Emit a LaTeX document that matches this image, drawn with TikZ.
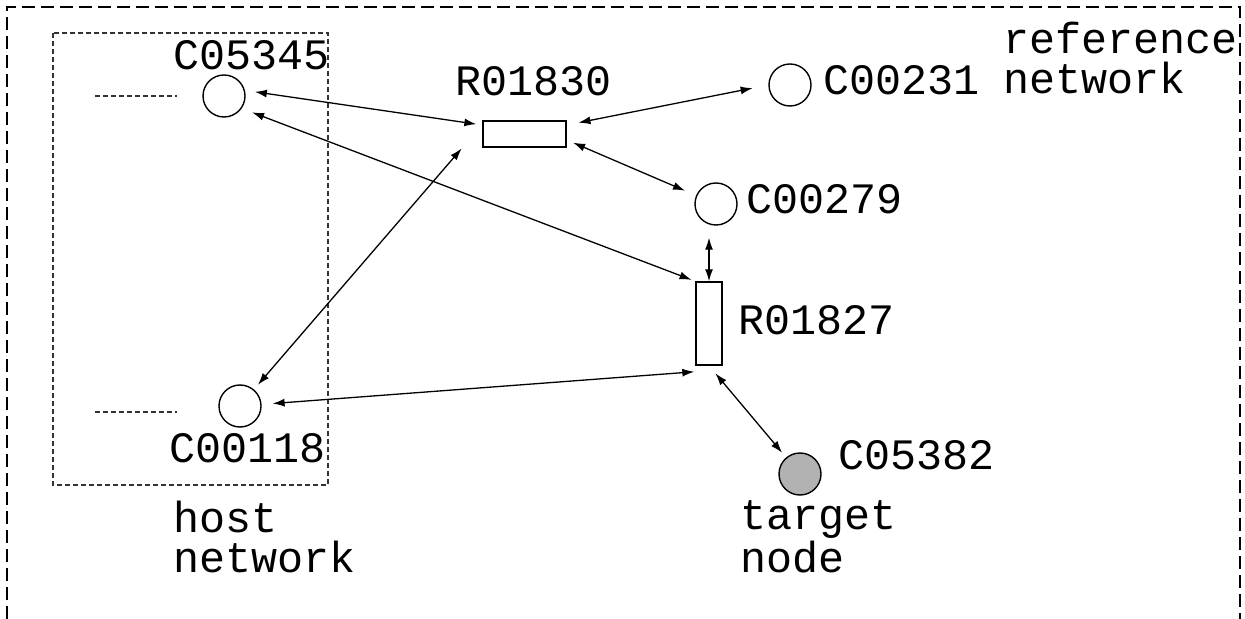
\documentclass[tikz,border=0pt]{standalone}
\usepackage{fontspec}
\setmonofont{Liberation Mono}
\usetikzlibrary{arrows.meta,calc}

\tikzset{
  cpd/.style={circle,draw,line width=0.7pt,minimum size=21pt,inner sep=0pt},
  rxn/.style={rectangle,draw,line width=0.7pt,inner sep=0pt},
  lbl/.style={anchor=base west,inner sep=0pt,align=left,
    font=\fontsize{21.7}{20}\selectfont\ttfamily},
  link/.style={{Latex[length=6pt,width=4pt]}-{Latex[length=6pt,width=4pt]},line width=0.65pt},
  stub/.style={draw=black!80,line width=0.6pt,dash pattern=on 2.5pt off 1.5pt},
}

\begin{document}
\begin{tikzpicture}[x=0.5pt,y=-0.5pt]
\useasboundingbox (0,0) rectangle (1245,619);

\draw[line width=0.9pt,dash pattern=on 6.5pt off 3pt] (7,619) -- (7,7) -- (1240,7) -- (1240,619);
\draw[stub] (53,33) rectangle (328,485);
\draw[stub] (95,96) -- (177,96);
\draw[stub] (95,412) -- (177,412);

\node[cpd] (C05345) at (224,96) {};
\node[cpd] (C00118) at (240,406) {};
\node[cpd] (C00231) at (790,85) {};
\node[cpd] (C00279) at (716,204) {};
\node[cpd,fill=black!30] (C05382) at (800,474) {};
\node[rxn,minimum width=41.5pt,minimum height=13pt] (R01830) at (524.5,134) {};
\node[rxn,minimum width=13pt,minimum height=41.5pt] (R01827) at (709,323.5) {};

\node[lbl] (t05345) at (173,70) {C05345};
\node[lbl] (t00118) at (169,462) {C00118};
\node[lbl] (t00231) at (823,95) {C00231};
\node[lbl] (t00279) at (746,214) {C00279};
\node[lbl] (t05382) at (838,469) {C05382};
\node[lbl] (t01830) at (455,96) {R01830};
\node[lbl] (t01827) at (738,335) {R01827};
\node[lbl] (tref) at (1003,94) {reference\\network};
\node[lbl] (thost) at (173,572) {host\\network};
\node[lbl] (ttarget) at (740,572) {target\\node};

\draw[link,shorten <=5pt,shorten >=3pt] (C05345.15) -- (R01830.168);
\draw[link,shorten <=5.5pt,shorten >=2pt] (C05345.-35) -- (R01827.north west);
\draw[link,shorten <=3pt,shorten >=0.5pt] (C00118.50) -- ($(R01830.south west)+(-20,0)$);
\draw[link,shorten <=6pt,shorten >=8pt] (R01830.12) -- (C00231.west);
\draw[link,shorten <=3.5pt,shorten >=6pt] (R01830.-8) -- (C00279);
\draw[link,shorten >=6pt] (R01827.north) -- (R01827.north |- C00279.south);
\draw[link,shorten <=5.5pt,shorten >=0.5pt] (C00118) -- ($(R01827.south west)+(0,6)$);
\draw[link,shorten <=5pt,shorten >=3pt] (R01827.south) -- (C05382);
\end{tikzpicture}
\end{document}
